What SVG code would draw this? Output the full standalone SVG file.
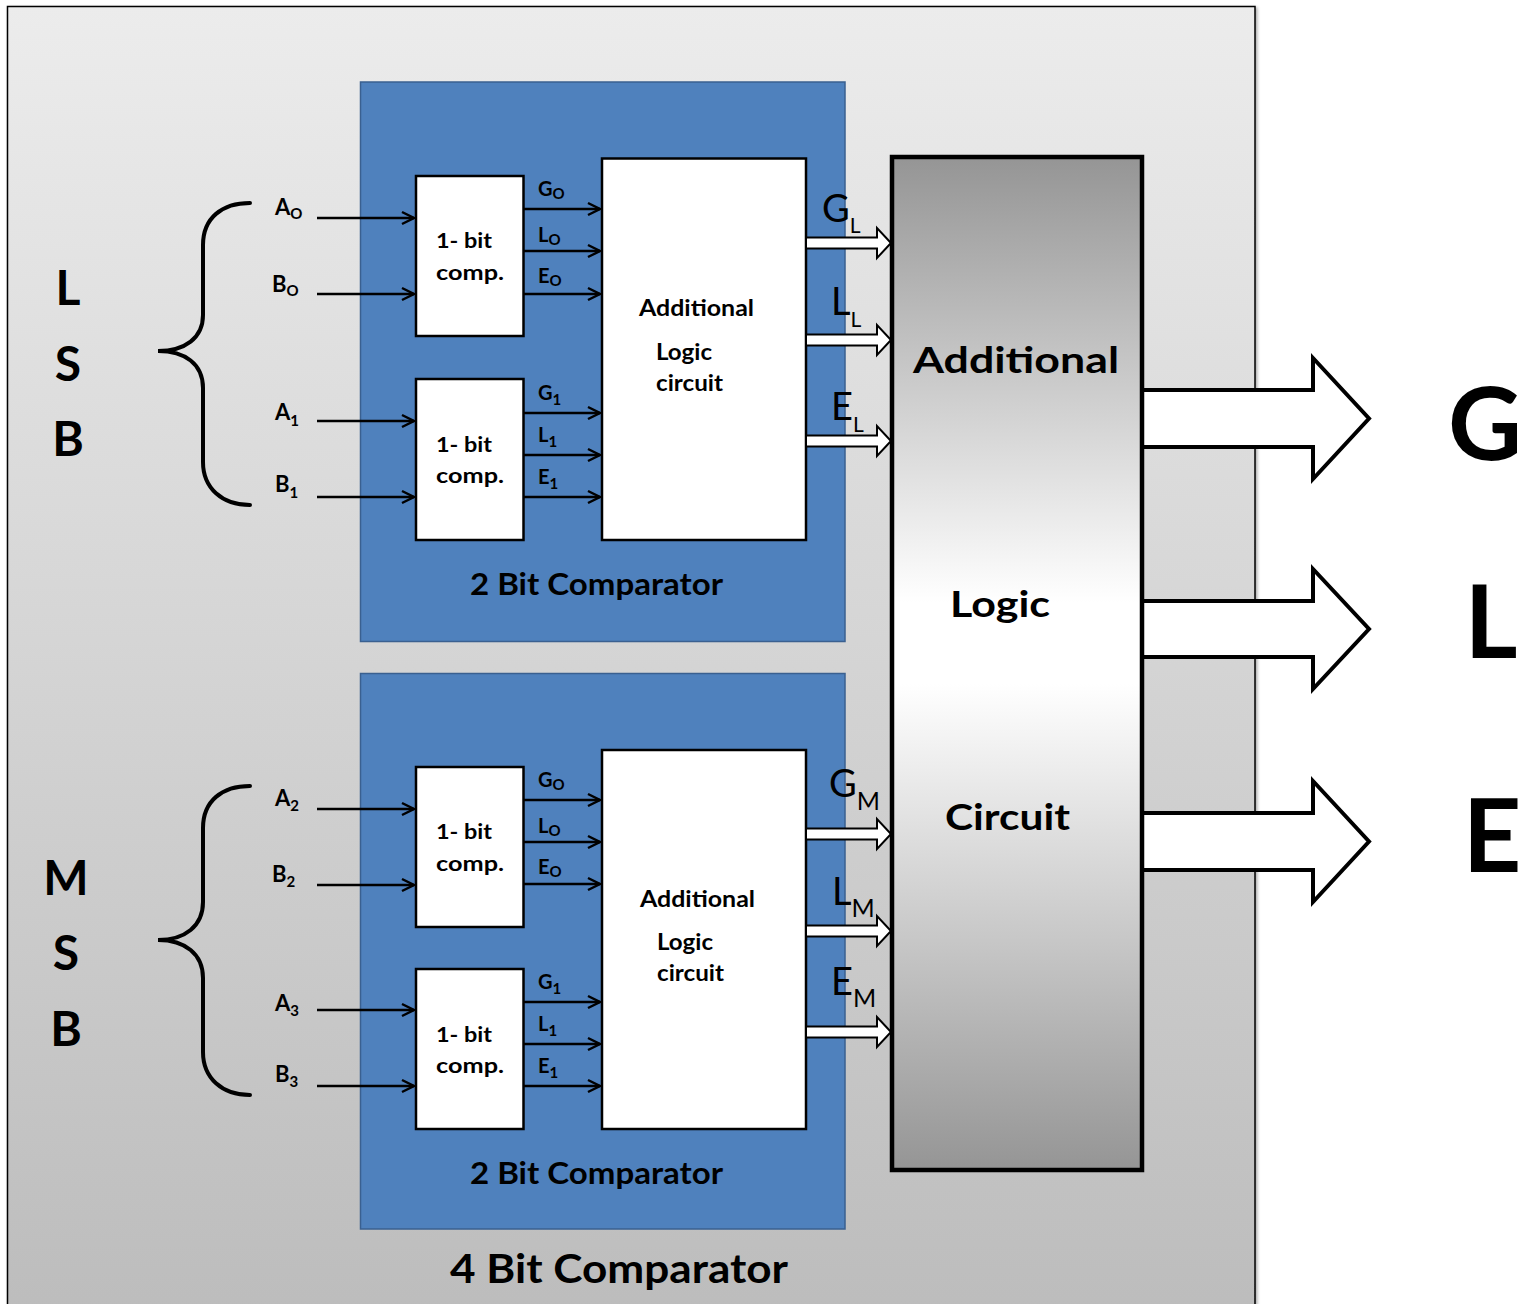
<svg xmlns="http://www.w3.org/2000/svg" width="1525" height="1304" viewBox="0 0 1525 1304">
  <defs>
    <linearGradient id="frameFill" x1="0" y1="0" x2="0" y2="1">
      <stop offset="0" stop-color="#ececec"/>
      <stop offset="1" stop-color="#bcbcbc"/>
    </linearGradient>
    <linearGradient id="logicFill" x1="0" y1="0" x2="0" y2="1">
      <stop offset="0" stop-color="#959595"/>
      <stop offset="0.44" stop-color="#ffffff"/>
      <stop offset="0.52" stop-color="#ffffff"/>
      <stop offset="1" stop-color="#959595"/>
    </linearGradient>
    <filter id="shadow" x="-5%" y="-5%" width="110%" height="110%">
      <feDropShadow dx="1.5" dy="1.5" stdDeviation="1.5" flood-color="#000" flood-opacity="0.35"/>
    </filter>
    <marker id="chev" viewBox="0 0 14 14" refX="13" refY="7" markerWidth="14" markerHeight="14" markerUnits="userSpaceOnUse" orient="auto" overflow="visible">
      <path d="M1,1 L13,7 L1,13" fill="none" stroke="#000" stroke-width="2.5" stroke-linejoin="miter"/>
    </marker>
  </defs>
  <style>
    .t { font-family: Lato, "Open Sans", "Liberation Sans", sans-serif; font-weight: 700; fill: #000; }
    .r { font-weight: 400; }
    .blue { fill: #4f81bd; stroke: #3a6090; stroke-width: 1.5; }
    .cell { fill: #ffffff; stroke: #000; stroke-width: 2.5; }
    .wire { stroke: #000; stroke-width: 2.5; fill: none; marker-end: url(#chev); }
    .brace { stroke: #000; stroke-width: 4; fill: none; stroke-linecap: round; }
    .bus { fill: #ffffff; stroke: #000; stroke-width: 2; stroke-linejoin: miter; }
    .out { fill: #ffffff; stroke: #000; stroke-width: 4; stroke-linejoin: miter; }
    .in { font-size: 22px; }
    .io { font-size: 20px; }
    .s1 { font-size: 15px; }
    .cmp { font-size: 21px; }
    .alc { font-size: 22px; }
    .big { font-size: 38px; }
    .sl { font-size: 21px; }
    .sm { font-size: 25px; }
  </style>

  <!-- outer 4-bit comparator frame -->
  <g id="frame">
    <rect x="7.5" y="6.5" width="1247.5" height="1320" fill="url(#frameFill)" stroke="#000" stroke-width="1.5" filter="url(#shadow)"/>
    <text class="t" x="450" y="1283" font-size="40" textLength="338" lengthAdjust="spacingAndGlyphs">4 Bit Comparator</text>
  </g>

  <!-- LSB group -->
  <g id="lsb">
    <path class="brace" d="M250,203 C222,203 203,218 203,245 L203,315 C203,338 185,351 158,351 C185,351 203,364 203,388 L203,462 C203,488 222,505 250,505"/>
    <text class="t" x="68" y="305" font-size="48" text-anchor="middle">L</text>
    <text class="t" x="68" y="381" font-size="48" text-anchor="middle">S</text>
    <text class="t" x="68" y="456" font-size="48" text-anchor="middle">B</text>
  </g>

  <!-- MSB group -->
  <g id="msb">
    <path class="brace" d="M250,786 C222,786 203,801 203,828 L203,902 C203,926 185,940 158,940 C185,940 203,954 203,978 L203,1052 C203,1078 222,1095 250,1095"/>
    <text class="t" x="66" y="895" font-size="48" text-anchor="middle">M</text>
    <text class="t" x="66" y="970" font-size="48" text-anchor="middle">S</text>
    <text class="t" x="66" y="1046" font-size="48" text-anchor="middle">B</text>
  </g>

  <!-- upper 2-bit comparator -->
  <g id="cmp2-low">
    <rect class="blue" x="360.5" y="82" width="484.5" height="559.5"/>
    <text class="t" x="470" y="595" font-size="30" textLength="253" lengthAdjust="spacingAndGlyphs">2 Bit Comparator</text>
  </g>
  <g id="bit0">
    <rect class="cell" x="416" y="176" width="107.5" height="160"/>
    <text class="t cmp" x="436" y="248" textLength="56" lengthAdjust="spacingAndGlyphs">1- bit</text>
    <text class="t cmp" x="436" y="280" textLength="68" lengthAdjust="spacingAndGlyphs">comp.</text>
  </g>
  <g id="bit1">
    <rect class="cell" x="416" y="379" width="107.5" height="161"/>
    <text class="t cmp" x="436" y="452" textLength="56" lengthAdjust="spacingAndGlyphs">1- bit</text>
    <text class="t cmp" x="436" y="483" textLength="68" lengthAdjust="spacingAndGlyphs">comp.</text>
  </g>
  <g id="logic-low">
    <rect class="cell" x="602" y="158.5" width="204" height="381.5"/>
    <text class="t alc" x="639" y="316" textLength="115" lengthAdjust="spacingAndGlyphs">Additional</text>
    <text class="t alc" x="656" y="360" textLength="56" lengthAdjust="spacingAndGlyphs">Logic</text>
    <text class="t alc" x="656" y="391" textLength="67" lengthAdjust="spacingAndGlyphs">circuit</text>
  </g>

  <!-- lower 2-bit comparator -->
  <g id="cmp2-high">
    <rect class="blue" x="360.5" y="673.5" width="484.5" height="555.5"/>
    <text class="t" x="470" y="1184" font-size="30" textLength="253" lengthAdjust="spacingAndGlyphs">2 Bit Comparator</text>
  </g>
  <g id="bit2">
    <rect class="cell" x="416" y="767" width="107.5" height="160"/>
    <text class="t cmp" x="436" y="839" textLength="56" lengthAdjust="spacingAndGlyphs">1- bit</text>
    <text class="t cmp" x="436" y="871" textLength="68" lengthAdjust="spacingAndGlyphs">comp.</text>
  </g>
  <g id="bit3">
    <rect class="cell" x="416" y="969" width="107.5" height="160"/>
    <text class="t cmp" x="436" y="1042" textLength="56" lengthAdjust="spacingAndGlyphs">1- bit</text>
    <text class="t cmp" x="436" y="1073" textLength="68" lengthAdjust="spacingAndGlyphs">comp.</text>
  </g>
  <g id="logic-high">
    <rect class="cell" x="602" y="750" width="204" height="379"/>
    <text class="t alc" x="640" y="907" textLength="115" lengthAdjust="spacingAndGlyphs">Additional</text>
    <text class="t alc" x="657" y="950" textLength="56" lengthAdjust="spacingAndGlyphs">Logic</text>
    <text class="t alc" x="657" y="981" textLength="67" lengthAdjust="spacingAndGlyphs">circuit</text>
  </g>

  <!-- wires, buses and output arrows -->
  <g id="connectors">
    <!-- bit inputs -->
    <line class="wire" x1="317" y1="218" x2="414" y2="218"/>
    <line class="wire" x1="317" y1="294" x2="414" y2="294"/>
    <line class="wire" x1="317" y1="421" x2="414" y2="421"/>
    <line class="wire" x1="317" y1="497" x2="414" y2="497"/>
    <line class="wire" x1="317" y1="809" x2="414" y2="809"/>
    <line class="wire" x1="317" y1="885" x2="414" y2="885"/>
    <line class="wire" x1="317" y1="1010" x2="414" y2="1010"/>
    <line class="wire" x1="317" y1="1086" x2="414" y2="1086"/>
    <!-- 1-bit comparator outputs -->
    <line class="wire" x1="524" y1="209" x2="600" y2="209"/>
    <line class="wire" x1="524" y1="251" x2="600" y2="251"/>
    <line class="wire" x1="524" y1="294" x2="600" y2="294"/>
    <line class="wire" x1="524" y1="413" x2="600" y2="413"/>
    <line class="wire" x1="524" y1="455" x2="600" y2="455"/>
    <line class="wire" x1="524" y1="497" x2="600" y2="497"/>
    <line class="wire" x1="524" y1="800" x2="600" y2="800"/>
    <line class="wire" x1="524" y1="842" x2="600" y2="842"/>
    <line class="wire" x1="524" y1="884" x2="600" y2="884"/>
    <line class="wire" x1="524" y1="1002" x2="600" y2="1002"/>
    <line class="wire" x1="524" y1="1044" x2="600" y2="1044"/>
    <line class="wire" x1="524" y1="1086" x2="600" y2="1086"/>
    <!-- 2-bit result buses -->
    <path class="bus" d="M807,237.5 L877,237.5 L877,228 L891,243 L877,258 L877,248.5 L807,248.5"/>
    <path class="bus" d="M807,334.5 L877,334.5 L877,325 L891,340 L877,355 L877,345.5 L807,345.5"/>
    <path class="bus" d="M807,435.5 L877,435.5 L877,426 L891,441 L877,456 L877,446.5 L807,446.5"/>
    <path class="bus" d="M807,828.5 L877,828.5 L877,819 L891,834 L877,849 L877,839.5 L807,839.5"/>
    <path class="bus" d="M807,925.5 L877,925.5 L877,916 L891,931 L877,946 L877,936.5 L807,936.5"/>
    <path class="bus" d="M807,1026.5 L877,1026.5 L877,1017 L891,1032 L877,1047 L877,1037.5 L807,1037.5"/>
    <!-- final outputs -->
    <path class="out" d="M1142,390 L1313,390 L1313,358 L1369,418.5 L1313,479 L1313,447 L1142,447"/>
    <path class="out" d="M1142,601 L1313,601 L1313,569 L1369,629 L1313,689 L1313,657 L1142,657"/>
    <path class="out" d="M1142,813 L1313,813 L1313,781 L1369,841.5 L1313,902 L1313,870 L1142,870"/>
  </g>

  <!-- signal labels -->
  <g id="labels">
    <text class="t in" x="275" y="215">A<tspan class="s1" dy="4">O</tspan></text>
    <text class="t in" x="272" y="292">B<tspan class="s1" dy="4">O</tspan></text>
    <text class="t in" x="275" y="420">A<tspan class="s1" dy="6">1</tspan></text>
    <text class="t in" x="275" y="492">B<tspan class="s1" dy="6">1</tspan></text>
    <text class="t in" x="275" y="806">A<tspan class="s1" dy="5">2</tspan></text>
    <text class="t in" x="272" y="882">B<tspan class="s1" dy="5">2</tspan></text>
    <text class="t in" x="275" y="1011">A<tspan class="s1" dy="5">3</tspan></text>
    <text class="t in" x="275" y="1082">B<tspan class="s1" dy="5">3</tspan></text>

    <text class="t io" x="538" y="196">G<tspan class="s1" dy="3">O</tspan></text>
    <text class="t io" x="538" y="242">L<tspan class="s1" dy="3">O</tspan></text>
    <text class="t io" x="538" y="283">E<tspan class="s1" dy="3">O</tspan></text>
    <text class="t io" x="538" y="400">G<tspan class="s1" dy="5">1</tspan></text>
    <text class="t io" x="538" y="442">L<tspan class="s1" dy="5">1</tspan></text>
    <text class="t io" x="538" y="484">E<tspan class="s1" dy="5">1</tspan></text>
    <text class="t io" x="538" y="787">G<tspan class="s1" dy="3">O</tspan></text>
    <text class="t io" x="538" y="833">L<tspan class="s1" dy="3">O</tspan></text>
    <text class="t io" x="538" y="874">E<tspan class="s1" dy="3">O</tspan></text>
    <text class="t io" x="538" y="989">G<tspan class="s1" dy="5">1</tspan></text>
    <text class="t io" x="538" y="1031">L<tspan class="s1" dy="5">1</tspan></text>
    <text class="t io" x="538" y="1073">E<tspan class="s1" dy="5">1</tspan></text>

    <text class="t r big" x="822" y="222">G<tspan class="sl" dy="11">L</tspan></text>
    <text class="t r big" x="831" y="315">L<tspan class="sl" dy="12">L</tspan></text>
    <text class="t r big" x="831" y="420">E<tspan class="sl" dy="12">L</tspan></text>
    <text class="t r big" x="829" y="797">G<tspan class="sm" dy="13">M</tspan></text>
    <text class="t r big" x="832" y="905">L<tspan class="sm" dy="12">M</tspan></text>
    <text class="t r big" x="831" y="995">E<tspan class="sm" dy="12">M</tspan></text>

    <text class="t" x="1485" y="460" font-size="102" text-anchor="middle">G</text>
    <text class="t" x="1491" y="658" font-size="102" text-anchor="middle">L</text>
    <text class="t" x="1492" y="872" font-size="102" text-anchor="middle">E</text>
  </g>

  <!-- combining logic block -->
  <g id="final-logic">
    <rect x="892" y="157" width="250" height="1013" fill="url(#logicFill)" stroke="#000" stroke-width="4.5"/>
    <text class="t" x="913" y="373" font-size="36" textLength="206" lengthAdjust="spacingAndGlyphs">Additional</text>
    <text class="t" x="950" y="617" font-size="36" textLength="100" lengthAdjust="spacingAndGlyphs">Logic</text>
    <text class="t" x="945" y="830" font-size="36" textLength="125" lengthAdjust="spacingAndGlyphs">Circuit</text>
  </g>
</svg>
